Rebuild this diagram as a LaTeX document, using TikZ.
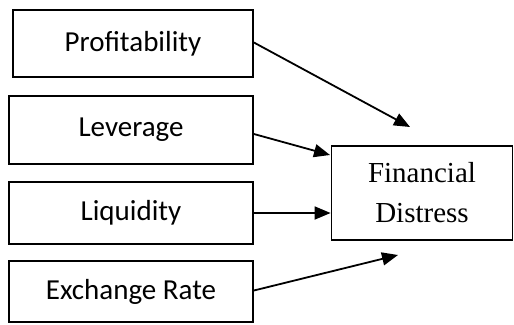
\documentclass[tikz,border=0pt]{standalone}
\usepackage{fontspec}
\setmainfont{Liberation Serif}
\newfontfamily\boxfont{Carlito}
\usetikzlibrary{arrows.meta}

\begin{document}
\begin{tikzpicture}[x=1pt, y=-1pt,
		factor/.style={draw, line width=1.8pt, inner sep=0pt, minimum width=244pt, font=\boxfont\fontsize{29}{34}\selectfont},
		outcome/.style={draw, line width=1.8pt, inner sep=0pt, align=center, minimum width=181pt, minimum height=94pt, font=\fontsize{29}{40}\selectfont},
		link/.style={line width=1.8pt, -{Triangle[length=16pt, width=13pt]}}]
		\useasboundingbox (0, 0) rectangle (514, 324);

		% explanatory variables
		\node[factor, minimum width=240pt, minimum height=67pt] (prof) at (133, 43.5) {Profitability};
		\node[factor, minimum height=68pt] (lev) at (131, 130) {Leverage};
		\node[factor, minimum height=62pt] (liq) at (131, 213) {Liquidity};
		\node[factor, minimum height=61pt] (exr) at (131, 291.5) {Exchange Rate};

		% dependent variable
		\node[outcome] (fd) at (422, 193) {Financial\\Distress};

		% arrow ends
		\coordinate (profend) at (410, 127);
		\coordinate (levend) at (330, 155);
		\coordinate (exrend) at (398, 255);

		% effects
		\draw[link] ([yshift=1pt]prof.east) -- (profend);
		\draw[link] ([yshift=-4pt]lev.east) -- (levend);
		\draw[link] (liq.east) -- (fd.west |- liq.east);
		\draw[link] ([yshift=1pt]exr.east) -- (exrend);
\end{tikzpicture}
\end{document}
